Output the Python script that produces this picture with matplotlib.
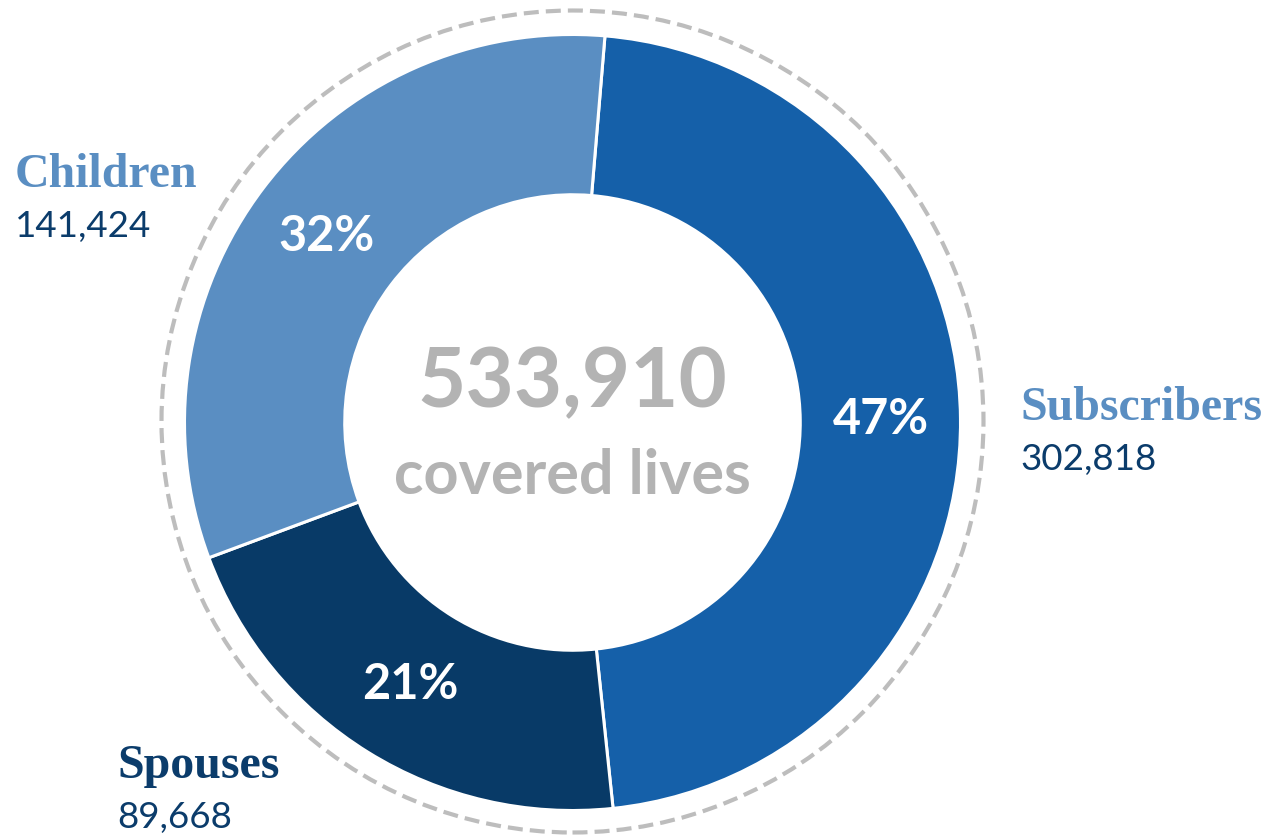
import matplotlib.pyplot as plt
from matplotlib.patches import Circle

# data
categories = ['Subscribers', 'Spouses', 'Children']
counts = [302818, 89668, 141424]
shares = [47, 21, 32]          # percentages shown on the ring
total = 533910

colors = ['#1560A9', '#083A67', '#5A8EC2']
label_colors = ['#5A8EC2', '#0B3C6B', '#5A8EC2']
num_color = '#0B3C6B'
gray = '#B3B3B3'

fig = plt.figure(figsize=(12.68, 8.39), dpi=100)
ax = fig.add_axes([0, 0, 1, 1])
ax.set_xlim(0, 1268)
ax.set_ylim(-839, 0)
ax.set_aspect('equal')
ax.axis('off')

cx, cy, R = 572.5, -422.5, 388

wedges, texts, autotexts = ax.pie(
    shares, colors=colors, center=(cx, cy), radius=R,
    startangle=85.2, counterclock=False,
    wedgeprops=dict(width=R * 0.413, edgecolor='white', linewidth=2.2),
    autopct=lambda p: f'{p:.0f}%', pctdistance=0.795,
    textprops=dict(color='white', fontsize=35, fontweight='bold', family='Lato'))
ax.set_xlim(0, 1268)
ax.set_ylim(-839, 0)

# dashed outer ring
ax.add_patch(Circle((cx, cy + 1), 411, fill=False, ls=(0, (3.6, 1.7)),
                    lw=3, color='#BDBDBD'))

# center total
ax.text(cx, -384, f'{total:,}', ha='center', va='center', fontsize=60,
        fontweight='bold', color=gray, family='Lato')
ax.text(cx, -476, 'covered lives', ha='center', va='center', fontsize=44,
        fontweight='bold', color=gray, family='Lato')

# category labels
label_pos = {'Subscribers': (1020, -420), 'Spouses': (117, -778), 'Children': (15, -187)}
for name, n, lc in zip(categories, counts, label_colors):
    x, y = label_pos[name]
    ax.text(x, y, name, ha='left', va='baseline', fontsize=34.5,
            fontweight='bold', color=lc, family='Liberation Serif')
    ax.text(x, y - 50, f'{n:,}', ha='left', va='baseline', fontsize=26.5,
            color=num_color, family='Lato')

fig.savefig('out.png', dpi=100)
